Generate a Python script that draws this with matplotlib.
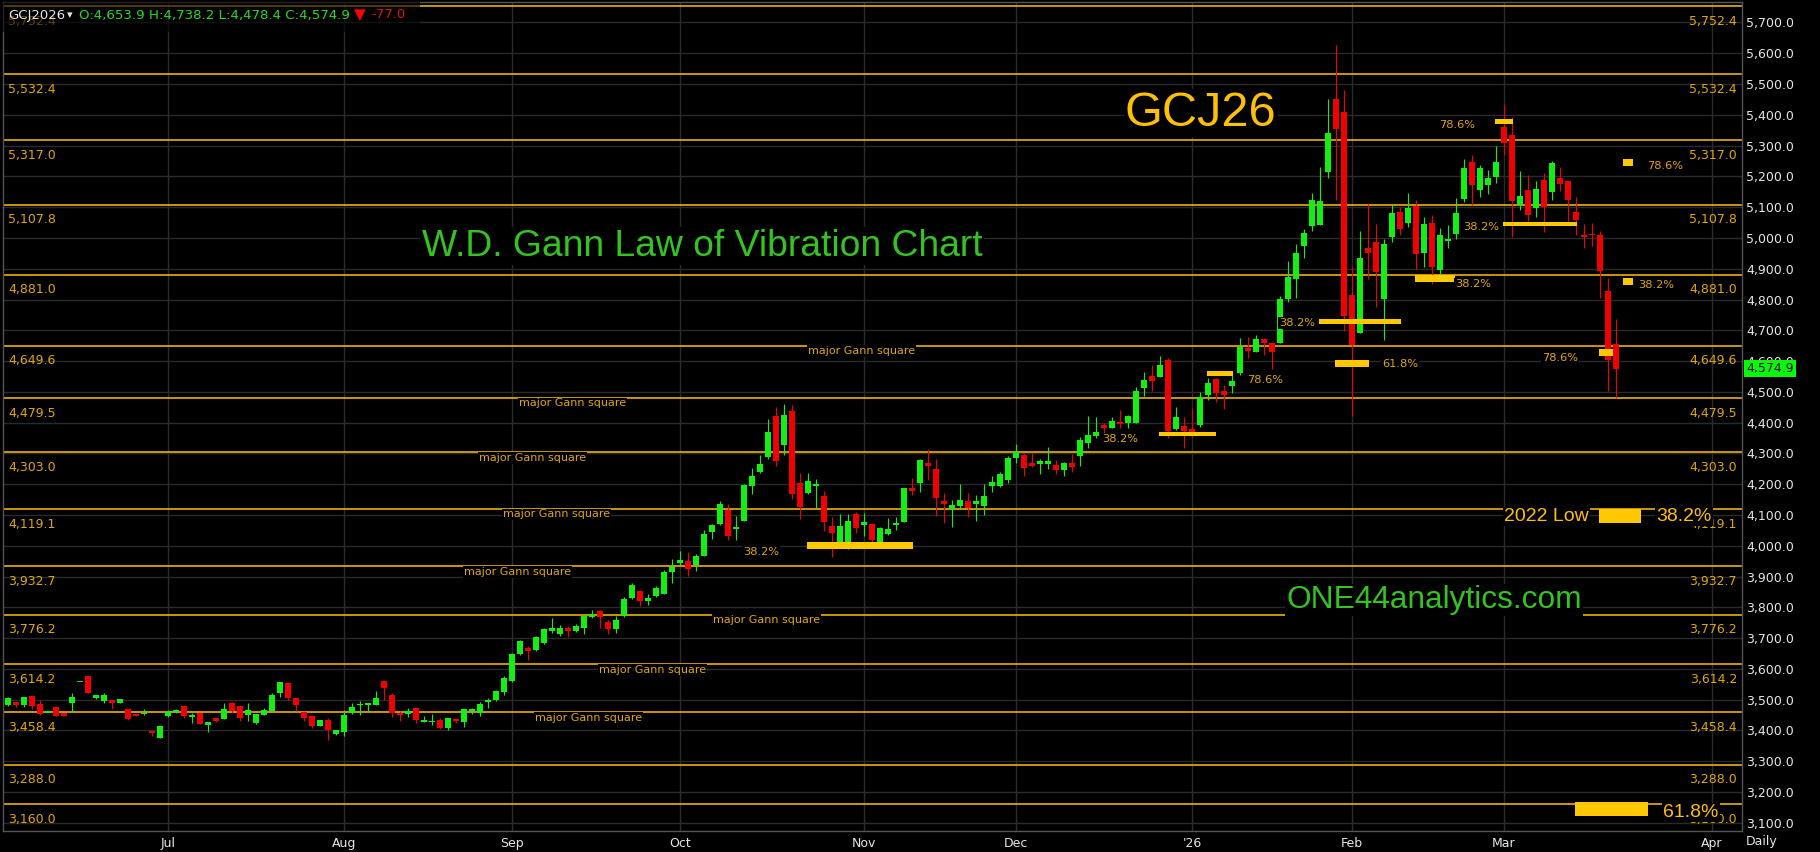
import matplotlib
matplotlib.use('Agg')
import matplotlib.pyplot as plt
import matplotlib.transforms as mtransforms
from matplotlib.patches import Rectangle
import numpy as np

# ---------------- data (daily OHLC, GCJ2026) ----------------
opens = [3482, 3492, 3482, 3511, 3485, 3459, 3475, 3458, 3490, 3559,
         3576, 3506, 3495, 3498, 3490, 3469, 3453, 3452, 3398, 3375,
         3446, 3459, 3479, 3444, 3457, 3418, 3439, 3437, 3490, 3479,
         3449, 3423, 3451, 3462, 3522, 3554, 3505, 3459, 3446, 3414,
         3434, 3389, 3395, 3457, 3481, 3484, 3483, 3560, 3516, 3458,
         3454, 3472, 3430, 3428, 3433, 3408, 3436, 3428, 3462, 3455,
         3493, 3498, 3526, 3561, 3649, 3669, 3662, 3683, 3723, 3713,
         3734, 3723, 3733, 3768, 3787, 3751, 3729, 3772, 3830, 3852,
         3822, 3838, 3844, 3915, 3944, 3951, 3937, 3967, 4045, 4070,
         4117, 4056, 4080, 4194, 4240, 4289, 4421, 4327, 4437, 4203,
         4172, 4194, 4161, 4063, 4006, 3996, 4102, 4068, 4071, 4008,
         4038, 4067, 4078, 4187, 4205, 4269, 4248, 4144, 4119, 4130,
         4144, 4137, 4130, 4195, 4195, 4212, 4286, 4295, 4269, 4264,
         4267, 4263, 4247, 4269, 4290, 4335, 4358, 4393, 4381, 4403,
         4398, 4400, 4511, 4552, 4547, 4604, 4380, 4390, 4380, 4392,
         4490, 4541, 4504, 4518, 4561, 4641, 4631, 4671, 4658, 4660,
         4803, 4868, 4975, 5040, 5043, 5215, 5450, 5409, 4814, 4691,
         4967, 4986, 4801, 5002, 5085, 5047, 5104, 4950, 5048, 4896,
         4991, 5013, 5127, 5247, 5156, 5172, 5198, 5360, 5335, 5106,
         5156, 5098, 5189, 5149, 5195, 5185, 5084, 5010, 5014, 5010,
         4828, 4653.9]
highs = [3509, 3493, 3509, 3511, 3498, 3462, 3476, 3458, 3522, 3560,
         3577, 3515, 3522, 3500, 3503, 3470, 3455, 3469, 3401, 3415,
         3466, 3469, 3479, 3457, 3458, 3427, 3439, 3490, 3493, 3479,
         3490, 3453, 3472, 3523, 3557, 3554, 3505, 3462, 3449, 3434,
         3439, 3401, 3466, 3490, 3495, 3490, 3528, 3560, 3520, 3462,
         3473, 3472, 3446, 3453, 3439, 3440, 3439, 3471, 3473, 3491,
         3504, 3531, 3576, 3652, 3694, 3673, 3708, 3733, 3766, 3741,
         3738, 3746, 3777, 3792, 3790, 3759, 3772, 3833, 3879, 3855,
         3844, 3870, 3920, 3958, 3982, 3980, 3974, 4050, 4072, 4144,
         4137, 4098, 4200, 4254, 4294, 4411, 4451, 4460, 4457, 4235,
         4237, 4218, 4178, 4094, 4102, 4102, 4110, 4105, 4073, 4060,
         4089, 4094, 4188, 4219, 4281, 4315, 4281, 4170, 4149, 4201,
         4170, 4165, 4200, 4225, 4239, 4292, 4331, 4301, 4301, 4281,
         4321, 4279, 4273, 4298, 4352, 4420, 4417, 4400, 4417, 4442,
         4425, 4515, 4565, 4588, 4617, 4610, 4450, 4418, 4447, 4499,
         4545, 4545, 4523, 4563, 4674, 4678, 4685, 4672, 4659, 4810,
         4925, 4981, 5028, 5145, 5232, 5450, 5627, 5480, 4905, 5021,
         5113, 5046, 4996, 5110, 5102, 5145, 5124, 5069, 5075, 5031,
         5042, 5130, 5257, 5270, 5237, 5221, 5299, 5435, 5392, 5219,
         5205, 5185, 5211, 5251, 5229, 5185, 5132, 5045, 5048, 5024,
         4869, 4738.2]
lows = [3479, 3477, 3477, 3468, 3449, 3459, 3446, 3447, 3464, 3559,
        3521, 3503, 3490, 3470, 3489, 3435, 3446, 3449, 3382, 3374,
        3444, 3455, 3441, 3424, 3420, 3395, 3428, 3437, 3458, 3432,
        3430, 3420, 3451, 3462, 3509, 3500, 3462, 3430, 3408, 3413,
        3368, 3385, 3381, 3453, 3449, 3459, 3483, 3498, 3444, 3430,
        3444, 3424, 3427, 3418, 3406, 3402, 3424, 3411, 3454, 3448,
        3473, 3495, 3516, 3558, 3646, 3629, 3657, 3681, 3717, 3706,
        3703, 3719, 3714, 3766, 3732, 3714, 3716, 3770, 3826, 3805,
        3806, 3835, 3842, 3879, 3938, 3903, 3918, 3967, 4023, 4066,
        4018, 4018, 4080, 4167, 4237, 4283, 4259, 4294, 4152, 4087,
        4168, 4123, 4047, 3963, 4001, 3990, 4041, 4033, 3997, 4002,
        4035, 4051, 4077, 4165, 4173, 4214, 4097, 4073, 4062, 4119,
        4094, 4081, 4100, 4173, 4192, 4203, 4270, 4225, 4257, 4234,
        4250, 4233, 4228, 4238, 4260, 4317, 4350, 4366, 4381, 4382,
        4382, 4400, 4488, 4504, 4547, 4349, 4376, 4316, 4353, 4387,
        4472, 4466, 4445, 4496, 4555, 4610, 4631, 4620, 4574, 4658,
        4793, 4806, 4936, 5021, 5043, 5194, 5123, 4699, 4422, 4691,
        4866, 4777, 4669, 4988, 5008, 5035, 4898, 4905, 4850, 4867,
        4966, 4997, 5116, 5107, 5134, 5143, 5178, 5270, 5004, 5091,
        5056, 5069, 5019, 5123, 5154, 5056, 5010, 4968, 4975, 4806,
        4504, 4478.4]
closes = [3504, 3483, 3508, 3480, 3452, 3462, 3447, 3447, 3508, 3560,
          3522, 3515, 3515, 3490, 3502, 3436, 3447, 3458, 3393, 3414,
          3459, 3466, 3447, 3449, 3421, 3427, 3430, 3469, 3462, 3440,
          3466, 3453, 3466, 3515, 3557, 3504, 3482, 3441, 3414, 3434,
          3401, 3401, 3449, 3475, 3486, 3486, 3506, 3538, 3455, 3451,
          3462, 3433, 3432, 3430, 3408, 3440, 3430, 3469, 3469, 3485,
          3500, 3528, 3570, 3648, 3690, 3657, 3705, 3731, 3734, 3733,
          3723, 3740, 3772, 3779, 3768, 3729, 3759, 3828, 3871, 3820,
          3829, 3864, 3915, 3931, 3955, 3924, 3966, 4037, 4066, 4135,
          4032, 4060, 4197, 4226, 4265, 4369, 4276, 4425, 4168, 4125,
          4210, 4199, 4077, 4041, 4063, 4079, 4058, 4077, 4018, 4058,
          4053, 4074, 4187, 4178, 4278, 4260, 4156, 4137, 4132, 4149,
          4124, 4145, 4162, 4207, 4233, 4285, 4303, 4251, 4260, 4276,
          4276, 4247, 4269, 4255, 4344, 4361, 4368, 4382, 4406, 4394,
          4420, 4503, 4539, 4534, 4588, 4373, 4418, 4373, 4361, 4483,
          4528, 4496, 4491, 4536, 4647, 4633, 4671, 4658, 4628, 4801,
          4872, 4950, 5015, 5123, 5120, 5340, 5353, 4745, 4652, 4934,
          4950, 4888, 4981, 5080, 5030, 5096, 4947, 5046, 4904, 5010,
          4996, 5080, 5227, 5172, 5227, 5195, 5247, 5310, 5121, 5136,
          5075, 5160, 5102, 5242, 5175, 5123, 5058, 5002, 5008, 4893,
          4603, 4574.9]

month_pos = [20, 42, 63, 84, 107, 126, 148, 168, 187, 213]
month_labels = ['Jul', 'Aug', 'Sep', 'Oct', 'Nov', 'Dec', "'26", 'Feb', 'Mar', 'Apr']
price_ticks = list(range(3100, 5701, 100))

gann_levels = [5752.4, 5532.4, 5317.0, 5107.8, 4881.0, 4649.6, 4479.5, 4303.0,
               4119.1, 3932.7, 3776.2, 3614.2, 3458.4, 3288.0, 3160.0]
square_levels = [4649.6, 4479.5, 4303.0, 4119.1, 3932.7, 3776.2, 3614.2, 3458.4]
square_x = [100.0, 63.9, 58.9, 61.9, 57.0, 88.1, 73.9, 65.9]

# fib marker bars: (x0, x1, low, high)
fib_bars = [(99.9, 113.1, 3989, 4012), (143.9, 151.0, 4357, 4370),
            (149.9, 153.1, 4553, 4568), (163.9, 174.1, 4721, 4737),
            (165.9, 170.1, 4582, 4603), (175.9, 180.9, 4857, 4880),
            (186.9, 196.1, 5039, 5052), (185.9, 188.1, 5370, 5386),
            (201.9, 203.1, 5234, 5256), (201.9, 203.1, 4848, 4870),
            (198.9, 200.6, 4617, 4639), (198.9, 204.1, 4075, 4119),
            (195.9, 205.0, 3121, 3167)]
fib_texts = ['38.2%', '38.2%', '78.6%', '38.2%', '61.8%', '38.2%',
             '38.2%', '78.6%', '78.6%', '38.2%', '78.6%']
fib_text_x = [94.1, 139.0, 157.1, 161.1, 174.0, 183.1, 184.1, 181.1, 207.1, 206.0, 194.0]
fib_text_y = [3981, 4346, 4538, 4723, 4590, 4850, 5036, 5367, 5234, 4847, 4611]

# ---------------- style ----------------
GREEN = '#11f011'
RED = '#f00000'
LEVEL = '#ffc000'
LABEL = '#e0a800'
GRID = '#2a2a2a'
WHITE = '#e6e6e6'
TGREEN = '#33c420'

W, H = 1820, 852
fig = plt.figure(figsize=(W / 100, H / 100), dpi=100, facecolor='black')
ax_left, ax_right, ax_top, ax_bot = 3, 1742, 2, 831
ax = fig.add_axes([ax_left / W, (H - ax_bot) / H, (ax_right - ax_left) / W, (ax_bot - ax_top) / H])
ax.set_facecolor('black')
ax.set_xlim(-0.625, 216.75)
ax.set_ylim(3073.2, 5766.6)

for s in ax.spines.values():
    s.set_color('#555555')
    s.set_linewidth(1)

ax.set_axisbelow(True)
ax.grid(True, color=GRID, lw=1)
ax.yaxis.tick_right()
ax.set_yticks(price_ticks)
ax.set_yticklabels([f"{v:,.1f}" for v in price_ticks])
ax.set_xticks(month_pos)
ax.set_xticklabels(month_labels)
ax.tick_params(axis='y', length=0, pad=3, labelcolor=WHITE, labelsize=9)
ax.tick_params(axis='x', length=0, pad=4, labelcolor=WHITE, labelsize=9)

# level lines and labels
ytrans = mtransforms.blended_transform_factory(ax.transAxes, ax.transData)
for lvl in gann_levels:
    ax.axhline(lvl, color=LEVEL, lw=1.1, zorder=1)
    lab = f"{lvl:,.1f}"
    ax.annotate(lab, xy=(0, lvl), xycoords=ytrans, xytext=(3.6, -10.8),
                textcoords='offset points', ha='left', va='center',
                fontsize=9, color=LABEL, zorder=1.5)
    ax.annotate(lab, xy=(1, lvl), xycoords=ytrans, xytext=(-3.6, -10.8),
                textcoords='offset points', ha='right', va='center',
                fontsize=9, color=LABEL, zorder=1.5)

for lvl, xs in zip(square_levels, square_x):
    ax.annotate('major Gann square', xy=(xs, lvl), xytext=(0, -3.8),
                textcoords='offset points', ha='left', va='center',
                fontsize=8, color=LABEL, zorder=4,
                bbox=dict(facecolor='black', edgecolor='none', pad=0.6))

# candles
x = np.arange(len(opens))
o = np.array(opens, float)
c = np.array(closes, float)
hi = np.array(highs, float)
lo = np.array(lows, float)
cols = np.where(c >= o, GREEN, RED)
bh = np.maximum(np.abs(c - o), 5.0)
bb = (o + c) / 2 - bh / 2
ax.vlines(x, lo, hi, colors=cols, lw=0.8, zorder=2)
ax.bar(x, bh, bottom=bb, width=0.68, color=cols, edgecolor='none', zorder=2.1)

# fib marker bars
for (x0, x1, b0, b1) in fib_bars:
    ax.add_patch(Rectangle((x0, b0), x1 - x0, b1 - b0, facecolor='#ffc800',
                           edgecolor='none', zorder=3))
for t, tx, ty in zip(fib_texts, fib_text_x, fib_text_y):
    ax.text(tx, ty, t, ha='center', va='center', fontsize=8.2, color=LABEL, zorder=4,
            bbox=dict(facecolor='black', edgecolor='none', pad=0.8))

big = dict(family='Liberation Sans', zorder=4)
ax.text(187.0, 4094, '2022 Low', ha='left', va='center', fontsize=14, color=LEVEL,
        bbox=dict(facecolor='black', edgecolor='none', pad=0.8), **big)
ax.text(206.0, 4094, '38.2%', ha='left', va='center', fontsize=14, color=LEVEL,
        bbox=dict(facecolor='black', edgecolor='none', pad=0.8), **big)
ax.text(206.9, 3133, '61.8%', ha='left', va='center', fontsize=14, color=LEVEL,
        bbox=dict(facecolor='black', edgecolor='none', pad=0.8), **big)

# titles
ax.text(149.1, 5405, 'GCJ26', ha='center', va='center', fontsize=35, color=LEVEL,
        bbox=dict(facecolor='black', edgecolor='none', pad=1), **big)
ax.text(86.75, 4973, 'W.D. Gann Law of Vibration Chart', ha='center', va='center',
        fontsize=26.8, color=TGREEN, bbox=dict(facecolor='black', edgecolor='none', pad=1), **big)
ax.text(178.25, 3823, 'ONE44analytics.com', ha='center', va='center', fontsize=22.8,
        color=TGREEN, bbox=dict(facecolor='black', edgecolor='none', pad=1), **big)

# current price tag
ax.annotate('4,574.9', xy=(1, closes[-1]), xycoords=ytrans, xytext=(2.8, 0),
            textcoords='offset points', ha='left', va='center', fontsize=9, color='black',
            bbox=dict(facecolor='#00ff00', edgecolor='none', pad=1.4),
            annotation_clip=False, zorder=10)

# header overlay
fig.patches.append(Rectangle((0, 1 - 32 / H), 420 / W, 32 / H, transform=fig.transFigure,
                             facecolor='black', alpha=0.6, edgecolor='none', zorder=5))
hy = 1 - 15 / H
fig.text(8 / W, hy, 'GCJ2026', color=WHITE, fontsize=9.5, va='center', ha='left', zorder=6)
fig.text(67 / W, hy, '\u25be', color=WHITE, fontsize=8, va='center', ha='left', zorder=6)
fig.text(79 / W, hy, 'O:4,653.9 H:4,738.2 L:4,478.4 C:4,574.9', color='#22dd22',
         fontsize=9.6, va='center', ha='left', zorder=6)
fig.text(360 / W, hy, '\u25bc', color='#ff0000', fontsize=11, va='center', ha='center', zorder=6)
fig.text(371 / W, hy, '-77.0', color='#dd1111', fontsize=9.5, va='center', ha='left', zorder=6)

fig.text(1746 / W, 1 - 842 / H, 'Daily', color=WHITE, fontsize=9, va='center', ha='left')

fig.savefig('out.png', dpi=100, facecolor='black')
